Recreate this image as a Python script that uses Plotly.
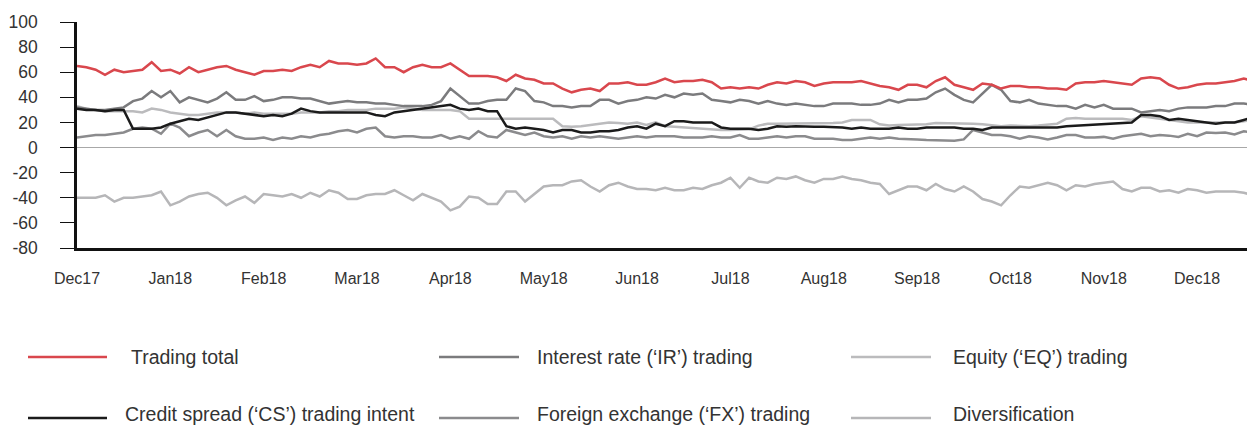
import plotly.graph_objects as go

months = ["Dec17", "Jan18", "Feb18", "Mar18", "Apr18", "May18", "Jun18",
          "Jul18", "Aug18", "Sep18", "Oct18", "Nov18", "Dec18"]
month_pos = [0, 10, 20, 30, 40, 50, 60, 70, 80, 90, 100, 110, 120]
y_ticks = [-80, -60, -40, -20, 0, 20, 40, 60, 80, 100]
y_tick_labels = ["-80", "-60", "-40", "-20", "0", "20", "40", "60", "80", "100"]

trading_total = [
    65, 64, 62, 58, 62, 60, 61, 62, 68, 61, 62, 59, 64, 60, 62, 64, 65, 62, 60, 58, 61,
    61, 62, 61, 64, 66, 64, 69, 67, 67, 66, 67, 71, 64, 64, 60, 64, 66, 64, 64, 67, 62,
    57, 57, 57, 56, 53, 58, 55, 54, 51, 51, 47, 44, 46, 47, 45, 51, 51, 52, 50, 50, 52,
    55, 52, 53, 53, 54, 52, 47, 48, 47, 48, 47, 50, 52, 51, 53, 52, 49, 51, 52, 52, 52,
    53, 51, 49, 48, 46, 50, 50, 48, 53, 56, 50, 48, 46, 51, 50, 47, 49, 49, 48, 48, 47,
    47, 46, 51, 52, 52, 53, 52, 51, 50, 55, 56, 55, 50, 47, 48, 50, 51, 51, 52, 53, 55, 53,
]
interest_rate = [
    32, 31, 30, 30, 31, 32, 37, 39, 45, 40, 45, 36, 40, 38, 36, 39, 44, 38, 38, 41, 37,
    38, 40, 40, 39, 39, 37, 35, 36, 37, 36, 36, 35, 35, 34, 33, 33, 33, 34, 37, 47, 41,
    35, 35, 37, 38, 38, 47, 45, 37, 36, 33, 33, 32, 33, 33, 38, 38, 35, 37, 38, 40, 39,
    42, 40, 43, 42, 43, 38, 37, 36, 38, 37, 35, 37, 35, 34, 35, 34, 33, 33, 35, 35, 35,
    34, 34, 35, 38, 36, 38, 38, 39, 44, 47, 42, 38, 36, 43, 50, 46, 37, 36, 38, 35, 34,
    33, 33, 31, 34, 32, 34, 31, 31, 31, 28, 29, 30, 29, 31, 32, 32, 32, 33, 33, 35, 35, 34,
]
equity = [
    33, 31, 30, 29, 29, 29, 29, 28, 31, 30, 28, 27, 26, 26, 27, 28, 28, 28, 27, 28, 27,
    27, 27, 27, 28, 28, 28, 29, 29, 30, 30, 30, 31, 31, 31, 32, 31, 30, 30, 30, 30, 29,
    23, 23, 23, 23, 23, 23, 23, 23, 23, 23, 17, 16.5, 17, 18, 19, 20, 19.5, 19, 20, 18, 20,
    17, 16.5, 16, 15, 14.5, 14, 14, 14, 14.5, 14.5, 17.5, 19, 19, 19, 19, 19, 19, 19, 19.5, 20, 22,
    22, 22, 18.5, 17.5, 18, 18, 18, 18.5, 19.5, 19.5, 19, 19, 19, 18.5, 17.5, 17, 17.5, 17, 17, 17.5, 18,
    19, 23, 23.5, 23, 23, 22.5, 23, 23, 22, 25, 24, 23, 22, 21, 20, 20, 20, 20, 20, 20, 21, 22,
]
credit_spread = [
    31, 30, 30, 29, 30, 30, 15, 15, 15, 16, 19, 21, 23, 22, 24, 26, 28, 28, 27, 26, 25,
    26, 25, 27, 31, 29, 28, 28, 28, 28, 28, 28, 26, 25, 28, 29, 30, 31, 32, 33, 34, 31,
    30, 31, 29, 29, 17, 15, 16, 15, 14, 12, 14, 14, 12, 12, 13, 13, 14, 16, 17, 15, 19,
    17, 21, 21, 20, 20, 20, 16, 15, 15, 15, 14, 15, 17, 16.5, 17, 16.5, 16.5, 16.5, 16.5, 16, 15,
    16, 15, 15, 15, 16, 15, 15, 16, 16, 16, 16, 15, 15, 14, 16, 16, 16, 16, 16, 16, 16,
    16, 17, 17.5, 18, 18.5, 19, 19, 19.5, 20, 26, 26, 25, 22, 23, 22, 21, 19.5, 19, 20, 20, 22, 24,
]
foreign_exchange = [
    8, 9, 10, 10, 11, 12, 15, 16, 15, 11, 19, 16, 9, 12, 14, 9, 14, 9, 7, 7, 8,
    6, 8, 7, 9, 8, 10, 11, 13, 14, 12, 15, 16, 9, 8, 9, 9, 8, 8, 10, 7, 9,
    7, 13, 9, 8, 14, 12, 10, 12, 9, 8, 9, 7, 9, 8, 9, 8, 7, 8, 9, 8, 9,
    9, 9, 8, 8, 8, 9, 8, 8, 10, 7, 7, 8, 9, 8, 9, 9, 7, 7, 7, 6, 6,
    7, 8, 7, 8, 7, 7, 6.5, 6, 6, 6, 5.5, 6.5, 14, 12, 10, 10, 9, 7, 9, 8, 6.5,
    8, 10, 10, 8, 8, 8.5, 7, 9, 10, 11, 9, 10, 9.5, 8.5, 11, 9, 12, 11.5, 12, 10.5, 13, 12,
]
diversification = [
    -40, -40, -40, -38, -43, -40, -40, -39, -38, -35, -46, -43, -39, -37, -36, -40, -46, -42, -39, -44, -37,
    -38, -39, -37, -40, -36, -39, -34, -36, -41, -41, -38, -37, -37, -34, -38, -42, -37, -40, -43, -50, -47,
    -39, -40, -45, -45, -35, -35, -43, -37, -31, -30, -30, -27, -26, -31, -35, -30, -28, -31, -33, -33, -34,
    -32, -34, -34, -32, -33, -30, -28, -24, -32, -24, -27, -28, -24, -25, -23, -26, -28, -25, -25, -23, -25,
    -26, -28, -29, -37, -34, -31, -31, -34, -29, -33, -35, -31, -35, -41, -43, -46, -38, -31, -32, -30, -28,
    -30, -34, -30, -31, -29, -28, -27, -33, -35, -32, -32, -35, -34, -36, -33, -34, -36, -35, -35, -35, -36, -38,
]

x_idx = list(range(len(trading_total)))

series = [
    ("Diversification", diversification, "#b6b6b8"),
    ("Equity (‘EQ’) trading", equity, "#bbbbbd"),
    ("Foreign exchange (‘FX’) trading", foreign_exchange, "#8b8b8d"),
    ("Interest rate (‘IR’) trading", interest_rate, "#7b7b7d"),
    ("Credit spread (‘CS’) trading intent", credit_spread, "#1b1b1b"),
    ("Trading total", trading_total, "#d9474d"),
]

fig = go.Figure()
for name, vals, col in series:
    fig.add_trace(go.Scatter(x=x_idx, y=vals, mode="lines", name=name,
                             line=dict(color=col, width=2.5), showlegend=False))

FONT = "Liberation Sans, Arial, Helvetica, sans-serif"

# the page body has an 8px default margin; compensate so the plot area sits at
# x 77..1255 and y 22..248 in the window
fig.update_layout(
    width=1247, height=419,
    margin=dict(l=69, r=0, t=14, b=179),
    paper_bgcolor="white", plot_bgcolor="white",
    font=dict(family=FONT, color="#333333"),
    xaxis=dict(range=[0, 126.2], tickvals=month_pos, ticktext=months,
               showgrid=False, zeroline=False, showline=True,
               linecolor="#111111", linewidth=2.6, ticks="",
               tickfont=dict(size=16, color="#333333"), ticklabelstandoff=14),
    yaxis=dict(range=[-80, 100], tickvals=y_ticks, ticktext=y_tick_labels,
               showgrid=False, zeroline=True, zerolinecolor="#a8a8a8", zerolinewidth=1,
               showline=True, linecolor="#111111", linewidth=2.6,
               ticks="outside", ticklen=14, tickwidth=1.3, tickcolor="#111111",
               tickfont=dict(size=17.5, color="#333333"), ticklabelstandoff=19),
)

plot_w = 1255 - 77
plot_h = 248 - 22


def px_x(px):
    return (px - 77) / plot_w


def px_y(py):
    return (248 - py) / plot_h


# label, colour, swatch x0, swatch x1, text x, swatch y, text y
legend_items = [
    ("Trading total", "#d9474d", 28, 107, 129, 357, 357),
    ("Interest rate (‘IR’) trading", "#7b7b7d", 439, 519, 535, 357, 357),
    ("Equity (‘EQ’) trading", "#bbbbbd", 851, 931, 951, 357, 357),
    ("Credit spread (‘CS’) trading intent", "#1b1b1b", 28, 107, 123, 418, 414),
    ("Foreign exchange (‘FX’) trading", "#8b8b8d", 439, 519, 535, 418, 414),
    ("Diversification", "#b6b6b8", 851, 931, 951, 418, 414),
]
for label, col, x0, x1, tx, ly, ty in legend_items:
    fig.add_shape(type="line", xref="paper", yref="paper",
                  x0=px_x(x0), x1=px_x(x1), y0=px_y(ly), y1=px_y(ly),
                  line=dict(color=col, width=2.6))
    fig.add_annotation(xref="paper", yref="paper", x=px_x(tx), y=px_y(ty),
                       text=label, showarrow=False, xanchor="left", yanchor="middle",
                       font=dict(size=19.5, color="#333333", family=FONT))

fig.write_html("out.html")
